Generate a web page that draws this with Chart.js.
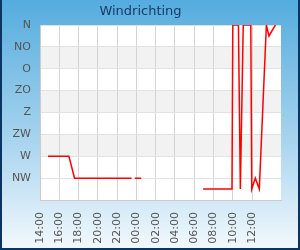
<!DOCTYPE html>
<html>
<head>
<meta charset="utf-8">
<script src="https://cdn.jsdelivr.net/npm/chart.js@4/dist/chart.umd.min.js"></script>
<style>
    html, body { margin: 0; padding: 0; }
    #wrap {
        position: relative;
        width: 300px;
        height: 250px;
        background: linear-gradient(to bottom, #54acde 0%, #a6d3ee 55%, #f3f9fd 100%);
        box-shadow: inset 2px 0 0 #0a3563, inset -2px 0 0 #0a3563, inset 0 -2px 0 #0a3563;
    }
    canvas { position: absolute; left: 0; top: 0; }
</style>
</head>
<body>
<div id="wrap"><canvas id="myChart" width="300" height="250"></canvas></div>
<script>
// wind direction readings, time of day (day wraps at midnight) and degrees
const times = ['14:50', '17:00', '17:35', '23:30', '23:40', '23:50', '00:30', '03:00',
    '06:55', '09:55', '10:00', '10:35', '10:47', '11:05', '11:52', '11:58',
    '12:20', '12:45', '13:29', '13:45', '14:25'];
const directions = [270, 270, 315, 315, null, 315, 315, null,
    337.5, 337.5, 0, 0, 337.5, 0, 0, 337.5,
    315, 337.5, 0, 22.5, 0];
const dirLabels = ['N', 'NO', 'O', 'ZO', 'Z', 'ZW', 'W', 'NW'];
const startHour = 14;
const spanHours = 25;
const bandStarts = [45, 135, 225];

// Turn 'HH:MM' strings into hours since the start, adding a day when the clock wraps
let dayOffset = 0;
let prev = -1;
const points = times.map((t, i) => {
    const [hh, mm] = t.split(':').map(Number);
    const h = hh + mm / 60;
    if (h < prev) dayOffset += 24;
    prev = h;
    return {x: h + dayOffset - startHour, y: directions[i]};
});

const bandsPlugin = {
    id: 'bands',
    beforeDraw(chart) {
        const {ctx, chartArea: a, scales: {y}} = chart;
        ctx.save();
        ctx.fillStyle = '#ffffff';
        ctx.fillRect(a.left, a.top, a.width, a.height);
        ctx.fillStyle = '#f2f2f2';
        bandStarts.forEach(s => {
            const y1 = y.getPixelForValue(s);
            const y2 = y.getPixelForValue(s + 45);
            ctx.fillRect(a.left, y1, a.width, y2 - y1);
        });
        ctx.restore();
    }
};

Chart.defaults.font.family = '"DejaVu Sans", sans-serif';

const config = {
    type: 'line',
    data: {
        datasets: [{
            data: points,
            borderColor: '#ff0000',
            borderWidth: 1.5,
            pointRadius: 0,
            tension: 0,
            spanGaps: false,
            clip: 0
        }]
    },
    options: {
        responsive: false,
        animation: false,
        layout: {padding: {left: 0, right: 19, top: 0, bottom: 0}},
        scales: {
            x: {
                type: 'linear',
                min: 0,
                max: spanHours,
                afterBuildTicks: s => { s.ticks = s.ticks.filter(t => t.value % 2 === 0); },
                afterFit: s => { s.height = 50; },
                grid: {color: '#d4d4d4', drawTicks: false},
                border: {color: '#cccccc'},
                ticks: {
                    stepSize: 2,
                    autoSkip: false,
                    minRotation: 90,
                    maxRotation: 90,
                    padding: 12,
                    color: '#555555',
                    font: {size: 11},
                    callback: v => String((startHour + v) % 24).padStart(2, '0') + ':00'
                }
            },
            y: {
                reverse: true,
                min: 0,
                max: 360,
                afterFit: s => { s.width = 40; },
                grid: {color: '#e2e2e2', drawTicks: false},
                border: {color: '#cccccc'},
                ticks: {
                    stepSize: 45,
                    autoSkip: false,
                    padding: 9,
                    color: '#555555',
                    font: {size: 11},
                    callback: v => v < 360 ? dirLabels[v / 45] : ''
                }
            }
        },
        plugins: {
            legend: {display: false},
            tooltip: {enabled: false},
            title: {
                display: true,
                text: 'Windrichting',
                color: '#1a3a66',
                font: {size: 13, weight: 'normal'},
                padding: {top: 4, bottom: 5.4}
            }
        }
    },
    plugins: [bandsPlugin]
};

const chart = new Chart(document.getElementById('myChart'), config);
</script>
</body>
</html>
